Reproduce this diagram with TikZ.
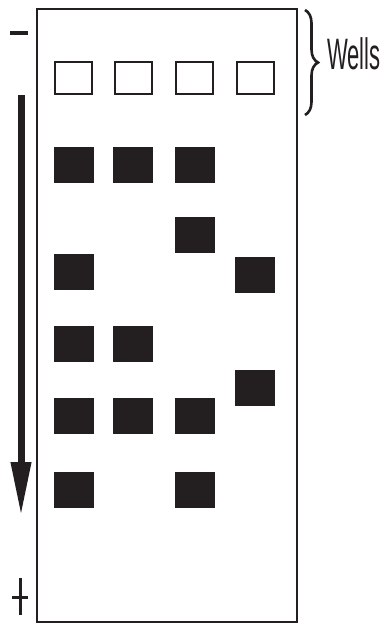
\documentclass[tikz,border=0pt]{standalone}
\usepackage{fontspec}
\setmainfont{Liberation Sans}
\usetikzlibrary{arrows.meta,decorations.pathreplacing}
\definecolor{ink}{HTML}{231F20}
\begin{document}
\begin{tikzpicture}[x=1pt,y=-1pt,
  band/.style={fill=ink,draw=none,minimum width=40pt,minimum height=36pt,inner sep=0pt},
  well/.style={draw=ink,line width=2pt,fill=white,minimum width=37pt,minimum height=32pt,inner sep=0pt},
  gel/.style={draw=ink,line width=2pt}]
\useasboundingbox (0,0) rectangle (384,625);
% gel
\draw[gel] (36.5,9) rectangle (297,622);
% wells
\node[well] (w1) at (73.5,78) {};
\node[well] (w2) at (133,78) {};
\node[well] (w3) at (194.5,78) {};
\node[well] (w4) at (255,78) {};
% bands
\node[band] (b1a) at (73.5,164.5) {};
\node[band] (b2a) at (133,164.5) {};
\node[band] (b3a) at (194.5,164.5) {};
\node[band] (b3b) at (194.5,234.5) {};
\node[band] (b1b) at (73.5,271.5) {};
\node[band] (b4a) at (255,275) {};
\node[band] (b1c) at (73.5,343.5) {};
\node[band] (b2b) at (133,343.5) {};
\node[band] (b4b) at (255,387.5) {};
\node[band] (b1d) at (73.5,415.5) {};
\node[band] (b2c) at (133,415.5) {};
\node[band] (b3c) at (194.5,415.5) {};
\node[band] (b1e) at (73.5,489.5) {};
\node[band] (b3d) at (194.5,489.5) {};
% electrodes
\draw[ink,line width=4pt] (10,32.5) -- (28,32.5);
\draw[ink,line width=3pt] (12,597) -- (28,597) (20,578) -- (20,615);
% migration arrow
\coordinate (atop) at (21,95);
\coordinate (abot) at (21,516);
\draw[ink,line width=7pt,-{Triangle[length=54pt,width=19pt]}] (atop) -- (abot);
% brace and label
\coordinate (btop) at (305,10);
\coordinate (bbot) at (305,115);
\draw[ink,line width=2.6pt,decorate,decoration={brace,amplitude=13pt}] (btop) -- (bbot);
\node[anchor=base west,inner sep=0pt,text=ink,font=\fontsize{44}{44}\selectfont,xscale=0.5] (lbl) at (327,69) {Wells};
\end{tikzpicture}
\end{document}
